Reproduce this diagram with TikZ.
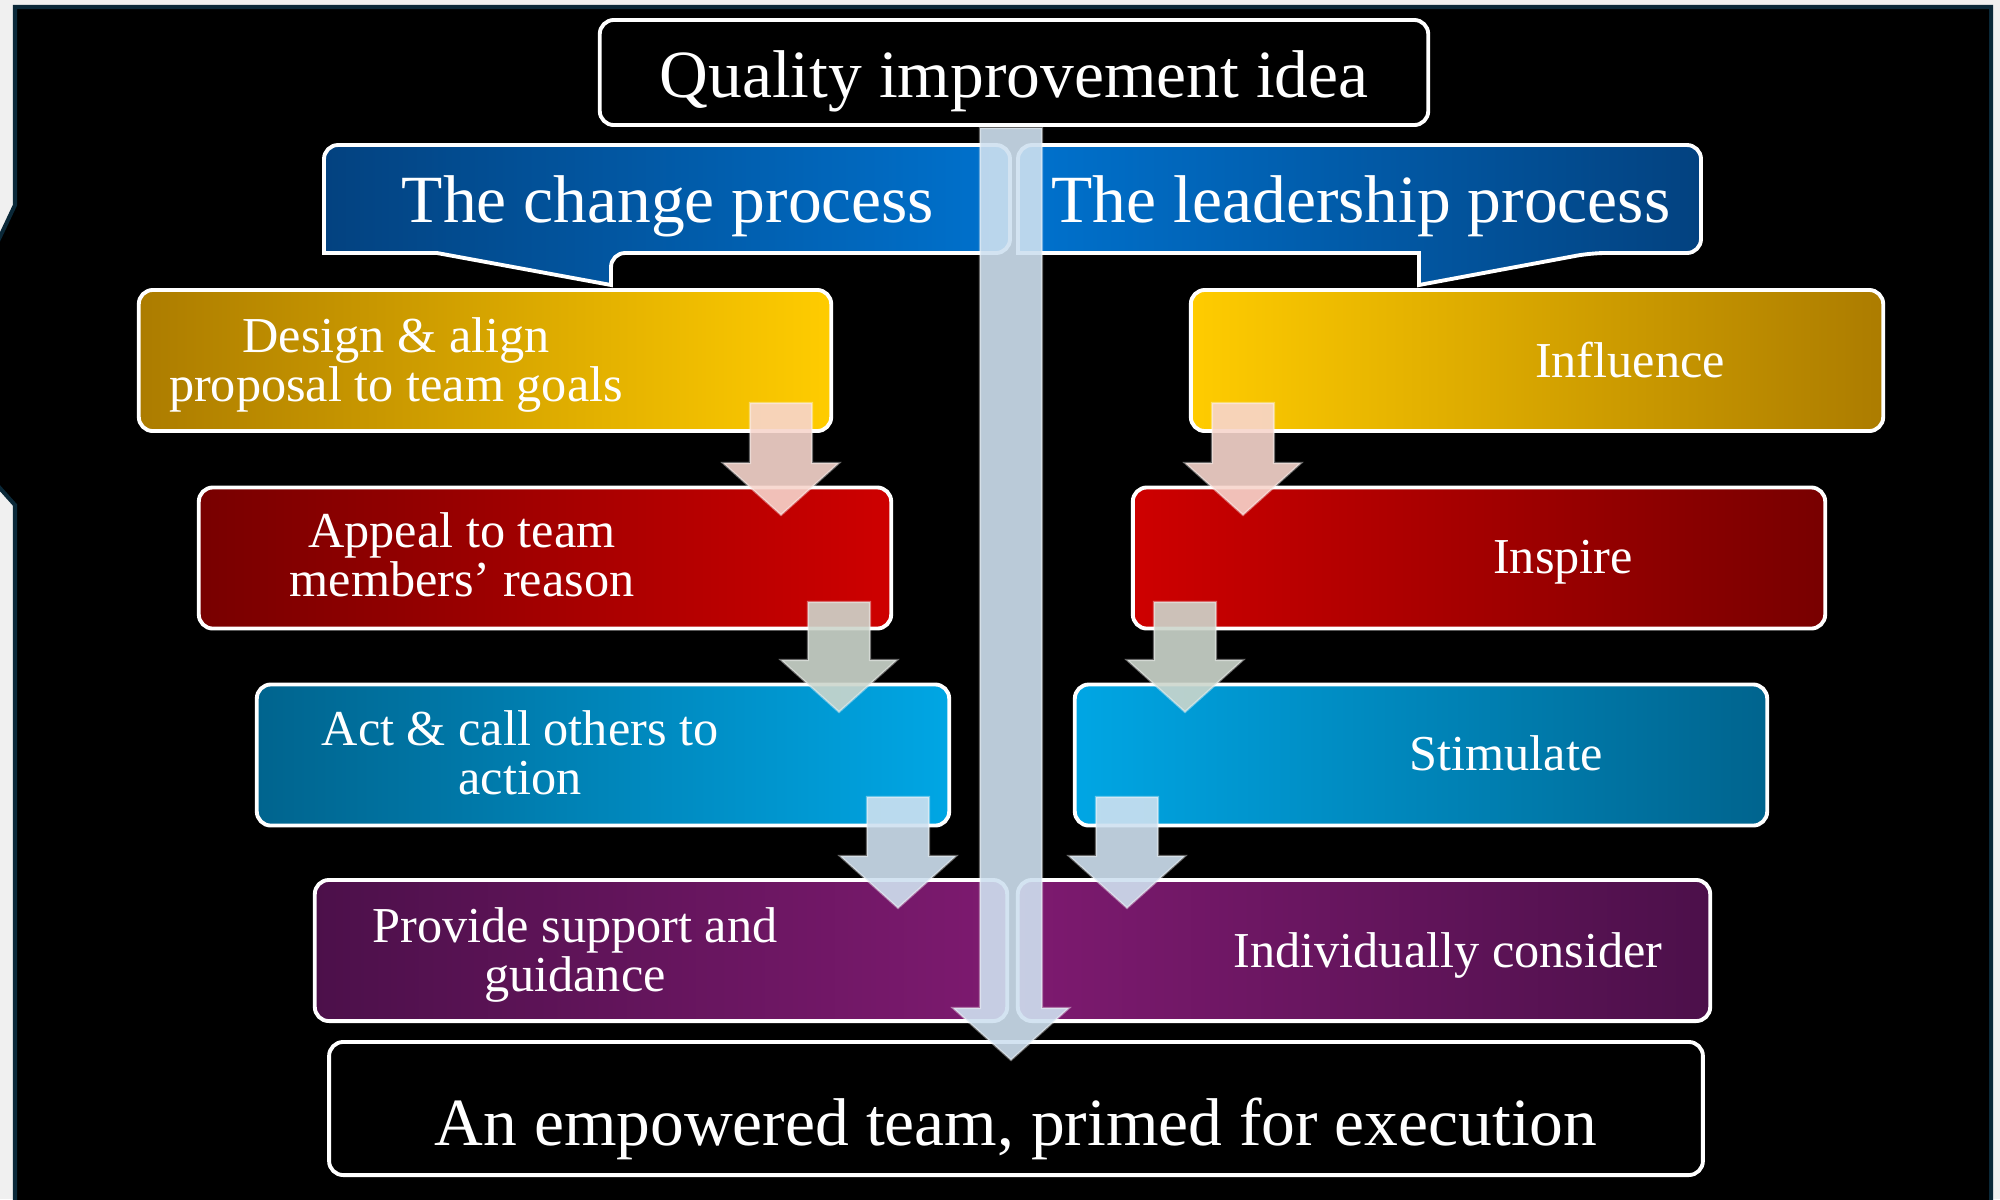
\documentclass[tikz,border=0pt]{standalone}
\usepackage{fontspec}
\setmainfont{Liberation Serif}
\usetikzlibrary{calc}
\definecolor{pagegray}{RGB}{240,240,240}
\definecolor{frameline}{RGB}{10,40,56}
\definecolor{goldlight}{RGB}{255,204,0}
\definecolor{golddark}{RGB}{172,124,0}
\definecolor{redlight}{RGB}{206,0,0}
\definecolor{reddark}{RGB}{120,0,0}
\definecolor{bluelight}{RGB}{0,166,228}
\definecolor{bluedark}{RGB}{0,100,142}
\definecolor{purplelight}{RGB}{126,26,112}
\definecolor{purpledark}{RGB}{76,16,74}
\definecolor{calloutlight}{RGB}{0,114,206}
\definecolor{calloutdark}{RGB}{3,66,128}
\definecolor{peach}{RGB}{247,213,204}
\definecolor{sage}{RGB}{205,214,204}
\definecolor{ice}{RGB}{207,225,240}

\begin{document}
\begin{tikzpicture}[x=0.01cm,y=-0.01cm]
            \tikzstyle{every node}+=[inner sep=0pt, text=white]
            \tikzstyle{box}=[draw=white, line width=1.1pt, rounded corners=4pt, minimum width=6.92cm, minimum height=1.41cm]
            \tikzstyle{callout}=[draw=white, line width=1.1pt]
            \tikzstyle{bigtext}=[font=\fontsize{19.2}{23}\selectfont]
            \tikzstyle{boxtext}=[font=\fontsize{14.3}{14.2}\selectfont, align=center]
            \tikzstyle{blockarrow}=[draw=white, draw opacity=0.4, line width=0.6pt, fill opacity=0.9,
              to path={($(\tikztostart)+(-31,0)$) -- ($(\tikztostart)+(31,0)$) -- ($(\tikztotarget)+(31,-52)$)
                -- ($(\tikztotarget)+(58,-52)$) -- (\tikztotarget) -- ($(\tikztotarget)+(-58,-52)$)
                -- ($(\tikztotarget)+(-31,-52)$) -- cycle}]
            \useasboundingbox (0,0) rectangle (2000,1199);
            \fill [pagegray] (0,0) rectangle (2000,1199);
            \draw [frameline, line width=1.15pt, fill=black] (15,7) -- (1991,7) -- (1991,1230) -- (15,1230) -- (15,505) -- (-10,477) -- (-10,258) -- (15,205) -- cycle;
            \path [callout, left color=calloutdark, right color=calloutlight] (700,145) [rounded corners=4pt] -- (1010,145) -- (1010,253) -- (611,253) [sharp corners] -- (611,285) -- (437,253) -- (324,253) [rounded corners=4pt] -- (324,145) -- cycle;
            \node [bigtext, anchor=base] (changet) at (668,222) {The change process};
            \path [callout, left color=calloutlight, right color=calloutdark] (1300,145) [rounded corners=4pt] -- (1701,145) -- (1701,253) -- (1591,253) [sharp corners] -- (1419,285) -- (1419,253) -- (1018,253) [rounded corners=4pt] -- (1018,145) -- cycle;
            \node [bigtext, anchor=base] (leadert) at (1361,222) {The leadership process};
            \node [box, left color=golddark, right color=goldlight] (design) at (485,360.5) {};
            \node [boxtext] (designt) at (396,367) {Design \& align\strut\\proposal to team goals\strut};
            \node [box, left color=reddark, right color=redlight] (appeal) at (545,558) {};
            \node [boxtext] (appealt) at (462,562) {Appeal to team\strut\\members’ reason\strut};
            \node [box, left color=bluedark, right color=bluelight] (act) at (603,755) {};
            \node [boxtext] (actt) at (520,760) {Act \& call others to\strut\\action\strut};
            \node [box, left color=purpledark, right color=purplelight] (support) at (661,950.5) {};
            \node [boxtext] (supportt) at (575,957) {Provide support and\strut\\guidance\strut};
            \node [box, left color=goldlight, right color=golddark] (influence) at (1537,360.5) {};
            \node [boxtext] (influencet) at (1630,367) {Influence\strut};
            \node [box, left color=redlight, right color=reddark] (inspire) at (1479,558) {};
            \node [boxtext] (inspiret) at (1563,563) {Inspire\strut};
            \node [box, left color=bluelight, right color=bluedark] (stimulate) at (1421,755) {};
            \node [boxtext] (stimulatet) at (1506,760) {Stimulate\strut};
            \node [box, left color=purplelight, right color=purpledark] (consider) at (1364,950.5) {};
            \node [boxtext] (considert) at (1448,957) {Individually consider\strut};
            \node [box, fill=black, minimum width=8.28cm, minimum height=1.05cm, bigtext, text height=14pt, text depth=0pt] (quality) at (1014,72.5) {Quality improvement idea};
            \node [box, fill=black, minimum width=13.73cm, minimum height=1.33cm, bigtext, text height=20.8pt, text depth=0pt] (team) at (1016,1108.5) {An empowered team, primed for execution};
            \coordinate (a1s) at (781,403);
            \coordinate (a1e) at (781,515);
            \coordinate (a2s) at (839,602);
            \coordinate (a2e) at (839,712);
            \coordinate (a3s) at (898,797);
            \coordinate (a3e) at (898,908);
            \coordinate (b1s) at (1243,403);
            \coordinate (b1e) at (1243,515);
            \coordinate (b2s) at (1185,602);
            \coordinate (b2e) at (1185,712);
            \coordinate (b3s) at (1127,797);
            \coordinate (b3e) at (1127,908);
            \coordinate (bars) at (1011,128);
            \coordinate (bare) at (1011,1060);
            \draw [blockarrow, fill=peach] (a1s) to (a1e);
            \draw [blockarrow, fill=sage] (a2s) to (a2e);
            \draw [blockarrow, fill=ice] (a3s) to (a3e);
            \draw [blockarrow, fill=peach] (b1s) to (b1e);
            \draw [blockarrow, fill=sage] (b2s) to (b2e);
            \draw [blockarrow, fill=ice] (b3s) to (b3e);
            \draw [blockarrow, fill=ice] (bars) to (bare);
\end{tikzpicture}
\end{document}
